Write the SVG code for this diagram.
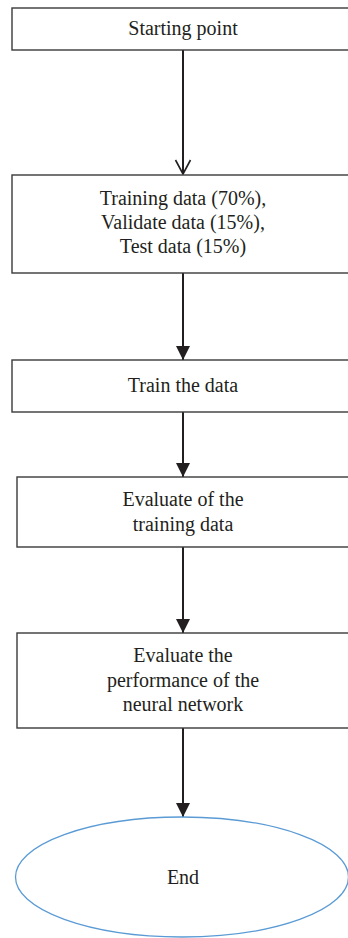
<svg xmlns="http://www.w3.org/2000/svg" width="348" height="938" viewBox="0 0 348 938">
<defs>
<style>
.box{fill:#fff;stroke:#3a3a3a;stroke-width:1.4}
.t{font-family:"Liberation Serif",serif;font-size:20px;fill:#231f20;text-anchor:middle}
.c{stroke:#231f20;stroke-width:2;fill:none}
</style>
<marker id="filled" markerUnits="userSpaceOnUse" markerWidth="16" markerHeight="14" refX="14" refY="7" orient="auto">
<path d="M0,0 L14,7 L0,14 Z" fill="#231f20"/>
</marker>
<marker id="open" markerUnits="userSpaceOnUse" markerWidth="18" markerHeight="18" refX="15" refY="8.5" orient="auto">
<path d="M1,1 L15,8.5 L1,16" fill="none" stroke="#231f20" stroke-width="1.6"/>
</marker>
</defs>
<rect width="348" height="938" fill="#fff"/>
<g id="connectors">
<line class="c" x1="183" y1="50" x2="183" y2="174" marker-end="url(#open)"/>
<line class="c" x1="183" y1="273" x2="183" y2="360" marker-end="url(#filled)"/>
<line class="c" x1="183" y1="412" x2="183" y2="477" marker-end="url(#filled)"/>
<line class="c" x1="183" y1="547" x2="183" y2="633" marker-end="url(#filled)"/>
<line class="c" x1="183" y1="728" x2="183" y2="817" marker-end="url(#filled)"/>
</g>
<g id="start">
<rect class="box" x="12" y="8" width="345" height="42"/>
<text class="t" x="183" y="35">Starting point</text>
</g>
<g id="split">
<rect class="box" x="12" y="175" width="345" height="98"/>
<text class="t" x="183" y="205">Training data (70%),</text>
<text class="t" x="183" y="229">Validate data (15%),</text>
<text class="t" x="183" y="253">Test data (15%)</text>
</g>
<g id="train">
<rect class="box" x="12" y="360" width="345" height="52"/>
<text class="t" x="183" y="392">Train the data</text>
</g>
<g id="evaltrain">
<rect class="box" x="17" y="477" width="340" height="70"/>
<text class="t" x="183" y="506">Evaluate of the</text>
<text class="t" x="183" y="531">training data</text>
</g>
<g id="evalperf">
<rect class="box" x="17" y="633" width="340" height="95"/>
<text class="t" x="183" y="662">Evaluate the</text>
<text class="t" x="183" y="687">performance of the</text>
<text class="t" x="183" y="711">neural network</text>
</g>
<g id="end">
<ellipse cx="182" cy="877" rx="166.5" ry="60" fill="#fff" stroke="#5b9bd5" stroke-width="1.3"/>
<text class="t" x="183" y="884">End</text>
</g>
</svg>
